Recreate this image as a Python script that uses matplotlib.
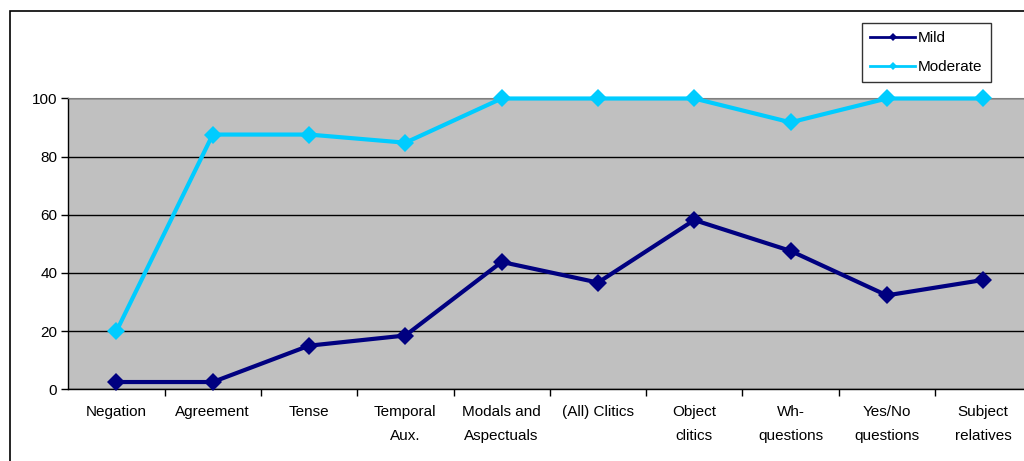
import matplotlib.pyplot as plt
from matplotlib.lines import Line2D
from matplotlib.patches import Rectangle

plt.rcParams['font.family'] = ['Liberation Sans', 'DejaVu Sans']

categories = ["Negation", "Agreement", "Tense", "Temporal\nAux.", "Modals and\nAspectuals",
              "(All) Clitics", "Object\nclitics", "Wh-\nquestions", "Yes/No\nquestions",
              "Subject\nrelatives"]
mild = [2.5, 2.5, 15, 18.5, 43.8, 36.7, 58.2, 47.6, 32.3, 37.6]
moderate = [20, 87.6, 87.6, 84.8, 100, 100, 100, 91.8, 100, 100]

navy = "#000080"
sky = "#00CCFF"

fig = plt.figure(figsize=(10.24, 4.61), dpi=100)
W, H = 1024, 461

# outer chart frame (cropped on right/bottom)
fig.patches.append(Rectangle((10 / W, -0.2), 2.0, 1 - 11 / H + 0.2, transform=fig.transFigure,
                             fill=False, edgecolor="black", linewidth=1.2))

ax = fig.add_axes([68.3 / W, 1 - 389.3 / H, 963 / W, 290.8 / H])
ax.set_facecolor("#C0C0C0")

x = range(len(categories))
ax.plot(x, mild, color=navy, lw=3, marker="D", ms=9.5, mew=0, clip_on=False, zorder=3)
ax.plot(x, moderate, color=sky, lw=3, marker="D", ms=9.5, mew=0, clip_on=False, zorder=3)

ax.set_xlim(-0.5, len(categories) - 0.5)
ax.set_ylim(0, 100)
ax.set_yticks([0, 20, 40, 60, 80, 100])
ax.yaxis.grid(True, color="black", lw=1)
ax.set_axisbelow(True)

ax.set_xticks(list(x))
ax.set_xticklabels(categories, fontsize=11, linespacing=1.95, va="top")
ax.set_xticks([i + 0.5 for i in range(len(categories) - 1)], minor=True)
ax.tick_params(axis="x", which="major", length=0, pad=11)
ax.tick_params(axis="x", which="minor", length=5, width=1, direction="out")
ax.tick_params(axis="y", length=5, width=1, direction="out", labelsize=11, pad=3)

for s in ["left", "bottom"]:
    ax.spines[s].set_color("black")
    ax.spines[s].set_linewidth(1)
ax.spines["top"].set_color("#808080")
ax.spines["right"].set_visible(False)

handles = [Line2D([], [], color=navy, lw=2, marker="D", ms=4, mew=0),
           Line2D([], [], color=sky, lw=2, marker="D", ms=4, mew=0)]
leg = fig.legend(handles, ["Mild", "Moderate"], loc="upper left",
                 bbox_to_anchor=(862 / W, 1 - 23 / H), fontsize=11, frameon=True,
                 fancybox=False, handlelength=2.9, handletextpad=0.2,
                 borderpad=0.55, labelspacing=0.95, borderaxespad=0)
leg.get_frame().set_edgecolor("black")
leg.get_frame().set_linewidth(1)

fig.savefig("out.png", dpi=100)
